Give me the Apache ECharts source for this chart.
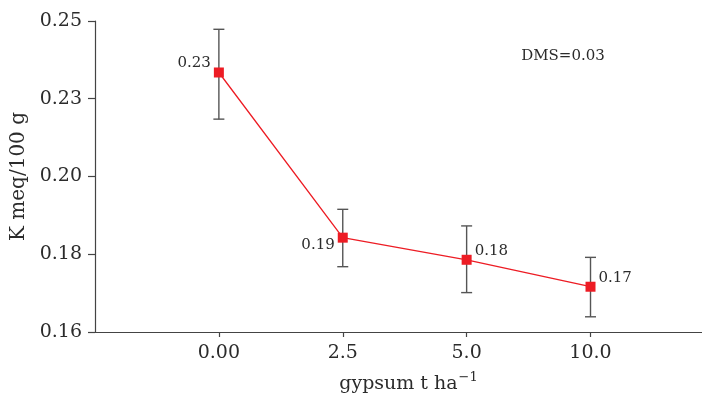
<!DOCTYPE html>
<html>
<head>
<meta charset="utf-8">
<script src="https://cdn.jsdelivr.net/npm/echarts@6/dist/echarts.min.js"></script>
<style>
  html, body { margin: 0; padding: 0; background: #fff; }
  #chart { width: 702px; height: 396px; }
</style>
</head>
<body>
<div id="chart"></div>
<script>
// gypsum rate (t/ha) on the x axis, K (meq/100 g) on the y axis
const categories = ['0.00', '2.5', '5.0', '10.0'];
const kMean = [0.2351, 0.1873, 0.1809, 0.1731];
const kLow = [0.2216, 0.1789, 0.1714, 0.1644];
const kHigh = [0.2476, 0.1955, 0.1907, 0.1816];
const pointLabels = ['0.23', '0.19', '0.18', '0.17'];
const yTicks = [0.16, 0.1825, 0.205, 0.2275, 0.25];
const yTickLabels = ['0.16', '0.18', '0.20', '0.23', '0.25'];
const dmsText = 'DMS=0.03';

const serif = '"DejaVu Serif", "Liberation Serif", serif';
const textColor = '#2b2b2b';
const axisColor = '#444';
const red = '#ed1c24';

function nearestTick(v) {
  let best = 0;
  yTicks.forEach((t, i) => {
    if (Math.abs(t - v) < Math.abs(yTicks[best] - v)) best = i;
  });
  return best;
}

// label placement per point (left / right of marker)
const labelPlace = [
  { position: 'left', offset: [0, -9] },
  { position: 'left', offset: [0, 7] },
  { position: 'right', offset: [0, -9] },
  { position: 'right', offset: [0, -9] }
];

const lineData = kMean.map((v, i) => ({
  value: [i, v],
  label: {
    show: true,
    position: labelPlace[i].position,
    offset: labelPlace[i].offset,
    distance: 3,
    formatter: () => pointLabels[i]
  }
}));

const errData = kMean.map((v, i) => [i, kLow[i], kHigh[i]]);

let chartDom = document.getElementById('chart');
let chart = echarts.init(chartDom);

let option = {
  animation: false,
  backgroundColor: '#fff',
  grid: {
    left: 95,
    right: 0,
    top: 21,
    bottom: 64,
    containLabel: false,
    outerBoundsMode: 'none'
  },
  xAxis: {
    type: 'value',
    min: -1,
    max: 3.9,
    name: '{a|gypsum t ha}{b|\u22121}',
    nameLocation: 'middle',
    nameGap: 39,
    nameTextStyle: {
      padding: [0, 0, 0, 20],
      rich: {
        a: { fontFamily: serif, fontSize: 19, color: textColor, lineHeight: 24 },
        b: { fontFamily: serif, fontSize: 13, color: textColor, padding: [0, 0, 14, 1] }
      }
    },
    axisLine: { show: true, onZero: false, lineStyle: { color: axisColor, width: 1.2 } },
    axisTick: {
      show: true,
      length: 5,
      customValues: [0, 1, 2, 3],
      lineStyle: { color: axisColor, width: 1.2 }
    },
    axisLabel: {
      customValues: [0, 1, 2, 3],
      margin: 12,
      fontFamily: serif,
      fontSize: 19,
      color: textColor,
      formatter: (v) => categories[Math.round(v)]
    },
    splitLine: { show: false }
  },
  yAxis: {
    type: 'value',
    min: 0.16,
    max: 0.25,
    name: 'K meq/100 g',
    nameLocation: 'middle',
    nameGap: 62,
    nameTextStyle: { fontFamily: serif, fontSize: 20, color: textColor },
    axisLine: { show: true, onZero: false, lineStyle: { color: axisColor, width: 1.2 } },
    axisTick: {
      show: true,
      length: 7,
      customValues: yTicks,
      lineStyle: { color: axisColor, width: 1.2 }
    },
    axisLabel: {
      customValues: yTicks,
      margin: 13,
      fontFamily: serif,
      fontSize: 19,
      color: textColor,
      formatter: (v) => yTickLabels[nearestTick(v)]
    },
    splitLine: { show: false }
  },
  graphic: [
    {
      type: 'text',
      x: 563,
      y: 56,
      style: {
        text: dmsText,
        fontFamily: serif,
        fontSize: 15,
        fill: textColor,
        textAlign: 'center',
        textVerticalAlign: 'middle'
      }
    }
  ],
  series: [
    {
      type: 'custom',
      z: 1,
      data: errData,
      renderItem: (params, api) => {
        const x = api.value(0);
        const lo = api.coord([x, api.value(1)]);
        const hi = api.coord([x, api.value(2)]);
        const cap = 5.5;
        const style = { stroke: '#555', lineWidth: 1.4 };
        return {
          type: 'group',
          children: [
            { type: 'line', shape: { x1: lo[0], y1: lo[1], x2: hi[0], y2: hi[1] }, style },
            { type: 'line', shape: { x1: hi[0] - cap, y1: hi[1], x2: hi[0] + cap, y2: hi[1] }, style },
            { type: 'line', shape: { x1: lo[0] - cap, y1: lo[1], x2: lo[0] + cap, y2: lo[1] }, style }
          ]
        };
      }
    },
    {
      type: 'line',
      z: 3,
      data: lineData,
      symbol: 'rect',
      symbolSize: 10,
      itemStyle: { color: red },
      lineStyle: { color: red, width: 1.3 },
      label: {
        fontFamily: serif,
        fontSize: 15,
        color: textColor
      }
    }
  ]
};

chart.setOption(option, true);
</script>
</body>
</html>
